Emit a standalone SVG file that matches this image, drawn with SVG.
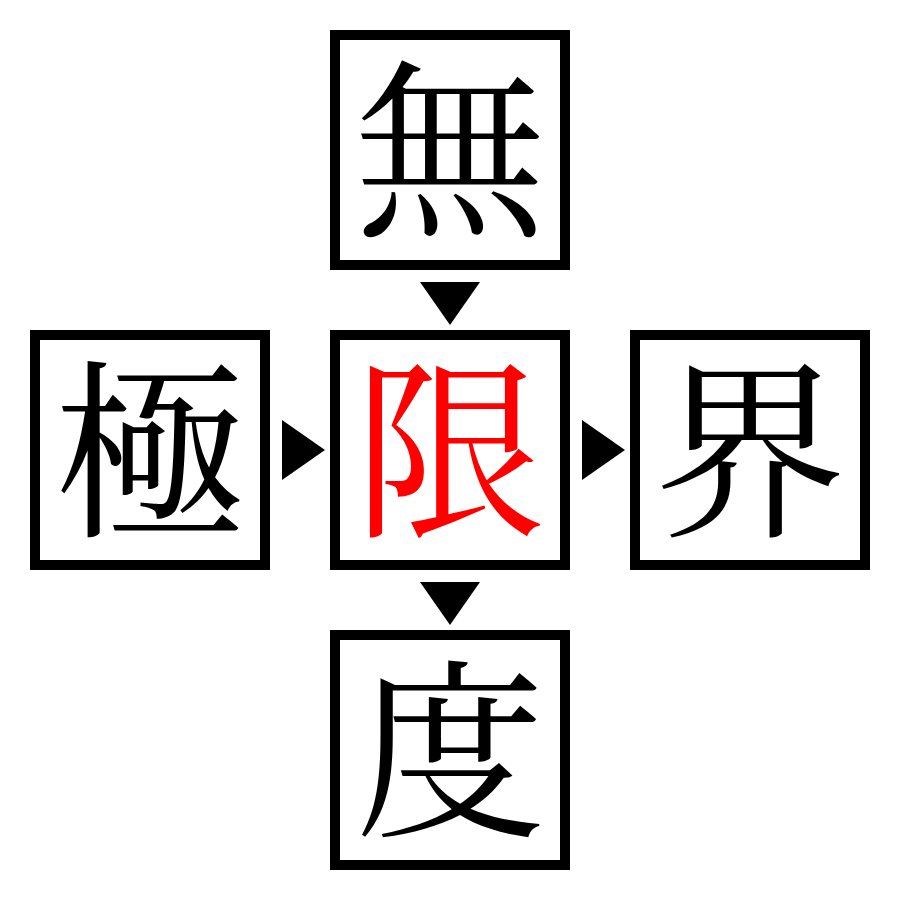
<svg xmlns="http://www.w3.org/2000/svg" width="900" height="900" viewBox="0 0 900 900">
<style>
.box{fill:#fff;stroke:#000;stroke-width:10}
.ch{font-family:"Noto Serif CJK JP","Noto Sans CJK JP",serif;font-size:192px;text-anchor:middle;fill:#000}
.red{fill:#ff0000}
.arr{fill:#000}
</style>
<rect width="900" height="900" fill="#fff"/>
<g id="node-wu"><rect class="box" x="335" y="35" width="230" height="230"/><text class="ch" x="450" y="222">無</text></g>
<g id="node-ji"><rect class="box" x="35" y="335" width="230" height="230"/><text class="ch" x="150" y="522">極</text></g>
<g id="node-xian"><rect class="box" x="335" y="335" width="230" height="230"/><text class="ch red" x="450" y="522">限</text></g>
<g id="node-jie"><rect class="box" x="635" y="335" width="230" height="230"/><text class="ch" x="750" y="522">界</text></g>
<g id="node-du"><rect class="box" x="335" y="635" width="230" height="230"/><text class="ch" x="450" y="822">度</text></g>
<g id="connectors">
<polygon class="arr" points="420,282 480,282 450,325"/>
<polygon class="arr" points="282,420 282,480 325,450"/>
<polygon class="arr" points="582,420 582,480 625,450"/>
<polygon class="arr" points="420,582 480,582 450,625"/>
</g>
</svg>
